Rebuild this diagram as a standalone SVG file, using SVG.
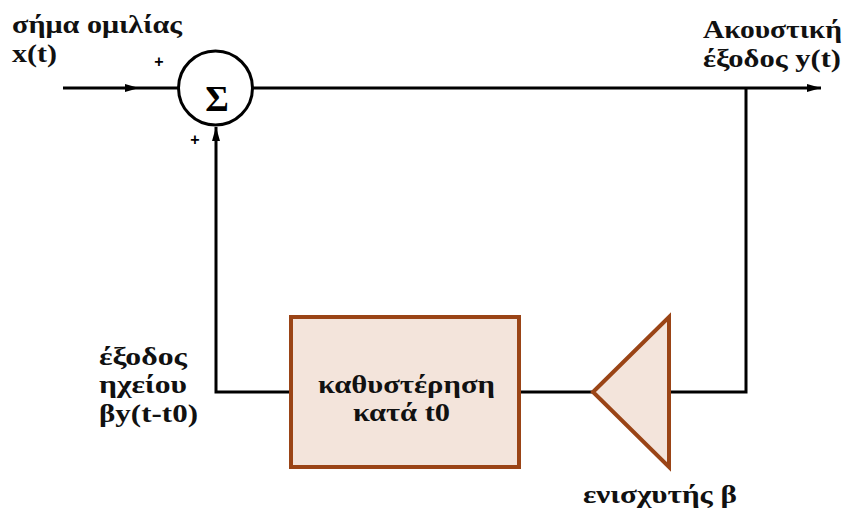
<svg xmlns="http://www.w3.org/2000/svg" width="847" height="510" viewBox="0 0 847 510">
  <style>
    .lbl { font-family: "Liberation Serif", "DejaVu Serif", serif; font-weight: bold; font-size: 26px; fill: #111; }
    .wire { fill: none; stroke: #000; stroke-width: 3; }
    .block { fill: #f3e4db; stroke: #9a4416; stroke-width: 4; stroke-linejoin: miter; }
    .sign { font-family: "Liberation Sans", sans-serif; font-weight: bold; font-size: 16px; fill: #000; }
  </style>
  <defs>
    <marker id="arrow" viewBox="0 0 14 8" refX="14" refY="4" markerWidth="14" markerHeight="8" markerUnits="userSpaceOnUse" orient="auto">
      <path d="M0,0 L14,4 L0,8 Z" fill="#000"/>
    </marker>
  </defs>

  <!-- signal paths -->
  <g id="connectors">
    <!-- input x(t) into summing junction, arrowhead sits mid-line -->
    <line class="wire" x1="63" y1="88" x2="179" y2="88"/>
    <path d="M125,84 L139,88 L125,92 Z" fill="#000"/>
    <!-- summing junction to acoustic output -->
    <line class="wire" x1="252" y1="88" x2="821" y2="88" marker-end="url(#arrow)"/>
    <!-- output tap down to amplifier -->
    <polyline class="wire" points="746,88 746,392 669,392"/>
    <!-- amplifier to delay -->
    <line class="wire" x1="593" y1="392" x2="519" y2="392"/>
    <!-- delay back up to summing junction -->
    <polyline class="wire" points="291,392 216,392 216,127" marker-end="url(#arrow)"/>
  </g>

  <!-- summing junction -->
  <g id="sum">
    <circle cx="215.5" cy="88" r="37" fill="#fff" stroke="#000" stroke-width="3"/>
    <text x="217" y="111" text-anchor="middle" font-family="Liberation Serif, serif" font-weight="bold" font-size="36">Σ</text>
    <text class="sign" x="159" y="67" text-anchor="middle">+</text>
    <text class="sign" x="195" y="145" text-anchor="middle">+</text>
  </g>

  <!-- delay block -->
  <g id="delay">
    <rect class="block" x="291" y="317" width="228" height="150"/>
    <text class="lbl" x="318" y="393" textLength="177" lengthAdjust="spacingAndGlyphs">καθυστέρηση</text>
    <text class="lbl" x="353" y="421" textLength="97" lengthAdjust="spacingAndGlyphs">κατά t0</text>
  </g>

  <!-- amplifier -->
  <g id="amp">
    <polygon class="block" points="593,392 669,317 669,467" stroke-width="3.5"/>
    <text class="lbl" x="583" y="503" textLength="154" lengthAdjust="spacingAndGlyphs">ενισχυτής β</text>
  </g>

  <!-- signal labels -->
  <g id="input-label">
    <text class="lbl" x="12" y="33" textLength="170" lengthAdjust="spacingAndGlyphs">σήμα ομιλίας</text>
    <text class="lbl" x="12" y="62" textLength="45" lengthAdjust="spacingAndGlyphs">x(t)</text>
  </g>
  <g id="output-label">
    <text class="lbl" x="703" y="38" textLength="139" lengthAdjust="spacingAndGlyphs">Ακουστική</text>
    <text class="lbl" x="703" y="67" textLength="138" lengthAdjust="spacingAndGlyphs">έξοδος y(t)</text>
  </g>
  <g id="feedback-label">
    <text class="lbl" x="99" y="365" textLength="88" lengthAdjust="spacingAndGlyphs">έξοδος</text>
    <text class="lbl" x="99" y="393" textLength="88" lengthAdjust="spacingAndGlyphs">ηχείου</text>
    <text class="lbl" x="99" y="422" textLength="99" lengthAdjust="spacingAndGlyphs">βy(t-t0)</text>
  </g>
</svg>
